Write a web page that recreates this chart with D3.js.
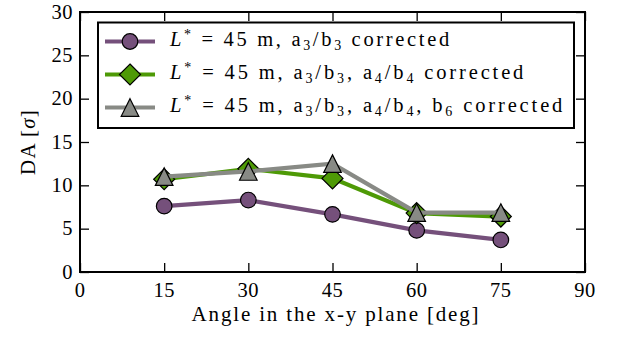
<!DOCTYPE html>
<html><head><meta charset="utf-8">
<script src="https://cdn.jsdelivr.net/npm/d3@7"></script>
<style>body{margin:0;background:#fff}svg{display:block}</style>
</head><body>
<svg id="c" width="618" height="337"></svg>
<script>
const angles = [15, 30, 45, 60, 75];
const seriesA = [7.6, 8.3, 6.65, 4.8, 3.7];
const seriesB = [10.7, 11.9, 10.8, 6.8, 6.4];
const seriesC = [11.0, 11.6, 12.5, 6.85, 6.85];
const xTicks = [0, 15, 30, 45, 60, 75, 90];
const yTicks = [0, 5, 10, 15, 20, 25, 30];
const colors = ["#75507b", "#4e9a06", "#888a85"];
const markers = ["circle", "diamond", "triangle"];
const legendLabels = [
  [["L","i"],["*","sup"],[" = 45 m, a","n"],["3","sub"],["/b","n"],["3","sub"],[" corrected","n"]],
  [["L","i"],["*","sup"],[" = 45 m, a","n"],["3","sub"],["/b","n"],["3","sub"],[", a","n"],["4","sub"],["/b","n"],["4","sub"],[" corrected","n"]],
  [["L","i"],["*","sup"],[" = 45 m, a","n"],["3","sub"],["/b","n"],["3","sub"],[", a","n"],["4","sub"],["/b","n"],["4","sub"],[", b","n"],["6","sub"],[" corrected","n"]]
];
const legendWidths = [282, 356, 395];
const allSeries = [seriesA, seriesB, seriesC];

const FONT = "'Liberation Serif', serif";
const FS = 20.5;
const svg = d3.select("#c");
const m = {l: 80, r: 585, t: 12, b: 272};
const x = d3.scaleLinear().domain([0, 90]).range([m.l, m.r]);
const y = d3.scaleLinear().domain([0, 30]).range([m.b, m.t]);

function fit(sel, target) {
  const n = sel.text().length;
  const w = sel.node().getComputedTextLength();
  sel.attr("letter-spacing", ((target - w) / n).toFixed(2));
}

const tickLen = 9;
const g = svg.append("g");
g.append("g").attr("transform", `translate(0,${m.b})`)
  .call(d3.axisBottom(x).tickValues(xTicks).tickSize(-tickLen).tickFormat(""))
  .call(s => s.select(".domain").remove());
g.append("g").attr("transform", `translate(0,${m.t})`)
  .call(d3.axisTop(x).tickValues(xTicks).tickSize(-tickLen).tickFormat(""))
  .call(s => s.select(".domain").remove());
g.append("g").attr("transform", `translate(${m.l},0)`)
  .call(d3.axisLeft(y).tickValues(yTicks).tickSize(-tickLen).tickFormat(""))
  .call(s => s.select(".domain").remove());
g.append("g").attr("transform", `translate(${m.r},0)`)
  .call(d3.axisRight(y).tickValues(yTicks).tickSize(-tickLen).tickFormat(""))
  .call(s => s.select(".domain").remove());
g.selectAll(".tick line").attr("stroke", "#000").attr("stroke-width", 1.3);

svg.append("g").selectAll("text").data(xTicks).join("text")
  .attr("x", d => x(d)).attr("y", 296.5).attr("text-anchor", "middle")
  .attr("font-family", FONT).attr("font-size", FS).attr("letter-spacing", 0.5).text(d => d);
svg.append("g").selectAll("text").data(yTicks).join("text")
  .attr("x", 73).attr("y", d => y(d) + 6.5).attr("text-anchor", "end")
  .attr("font-family", FONT).attr("font-size", FS).attr("letter-spacing", 0.5).text(d => d);

const xl = svg.append("text").attr("x", 336).attr("y", 321).attr("text-anchor", "middle")
  .attr("font-family", FONT).attr("font-size", 21).text("Angle in the x-y plane [deg]");
fit(xl, 289);
const yl = svg.append("text").attr("transform", `translate(35,${(m.t + m.b) / 2}) rotate(-90)`)
  .attr("text-anchor", "middle").attr("font-family", FONT).attr("font-size", 21);
yl.append("tspan").text("DA [");
yl.append("tspan").attr("font-style", "italic").text("σ");
yl.append("tspan").text("]");
fit(yl, 66);

function drawMarker(sel, type, cx, cy, color) {
  if (type === "circle") {
    sel.append("circle").attr("cx", cx).attr("cy", cy).attr("r", 7.8)
      .attr("fill", color).attr("stroke", "#000").attr("stroke-width", 1.2);
  } else if (type === "diamond") {
    const s = 10.5;
    sel.append("path").attr("d", `M${cx},${cy - s}L${cx + s},${cy}L${cx},${cy + s}L${cx - s},${cy}Z`)
      .attr("fill", color).attr("stroke", "#000").attr("stroke-width", 1.2);
  } else {
    const s = 8.8;
    sel.append("path").attr("d", `M${cx},${cy - s}L${cx + s},${cy + s}L${cx - s},${cy + s}Z`)
      .attr("fill", color).attr("stroke", "#000").attr("stroke-width", 1.2);
  }
}

const line = d3.line().x((d, i) => x(angles[i])).y(d => y(d));
allSeries.forEach((vals, k) => {
  const sg = svg.append("g");
  sg.append("path").attr("d", line(vals)).attr("fill", "none")
    .attr("stroke", colors[k]).attr("stroke-width", 4.2).attr("stroke-linejoin", "miter");
  vals.forEach((v, i) => drawMarker(sg, markers[k], x(angles[i]), y(v), colors[k]));
});

svg.append("rect").attr("x", m.l).attr("y", m.t).attr("width", m.r - m.l).attr("height", m.b - m.t)
  .attr("fill", "none").attr("stroke", "#000").attr("stroke-width", 2);

const lg = svg.append("g");
lg.append("rect").attr("x", 98).attr("y", 22.5).attr("width", 476).attr("height", 105.5)
  .attr("fill", "#fff").attr("stroke", "#000").attr("stroke-width", 2);
const rowY = [41.5, 74.5, 107.5];
legendLabels.forEach((segs, k) => {
  const cy = rowY[k];
  lg.append("line").attr("x1", 105).attr("x2", 155).attr("y1", cy).attr("y2", cy)
    .attr("stroke", colors[k]).attr("stroke-width", 4.2);
  drawMarker(lg, markers[k], 130, cy, colors[k]);
  const t = lg.append("text").attr("x", 170).attr("y", cy + 4.5).attr("font-family", FONT).attr("font-size", FS);
  let prev = "n";
  const lvl = {n: 0, i: 0, sup: -7, sub: 4};
  segs.forEach(([txt, st]) => {
    const sp = t.append("tspan").text(txt);
    const dy = lvl[st] - lvl[prev];
    if (dy) sp.attr("dy", dy);
    if (st === "i") sp.attr("font-style", "italic");
    if (st === "sup" || st === "sub") sp.attr("font-size", 14);
    prev = st;
  });
  fit(t, legendWidths[k]);
});
</script>
</body></html>
